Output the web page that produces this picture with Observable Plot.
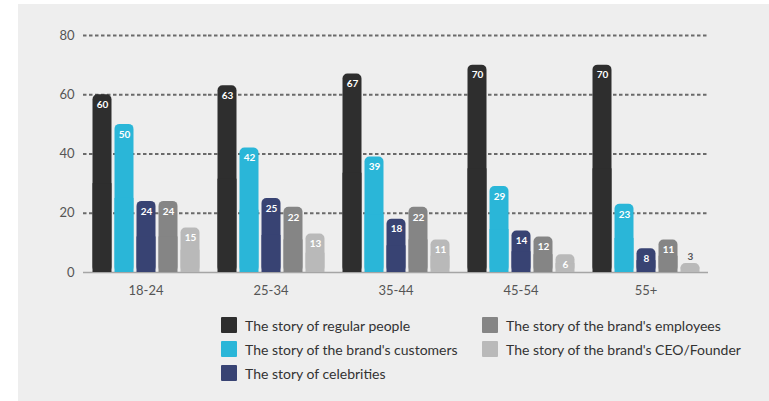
<!DOCTYPE html>
<html>
<head>
<meta charset="utf-8">
<script src="https://cdn.jsdelivr.net/npm/d3@7"></script>
<script src="https://cdn.jsdelivr.net/npm/@observablehq/plot@0.6"></script>
<style>
  html, body { margin: 0; padding: 0; background: #ffffff; width: 769px; height: 401px; overflow: hidden; font-family: Lato, "Open Sans", sans-serif; }
  #panel { position: absolute; left: 18px; top: 4px; width: 751px; height: 397px; background: #eeeeee; }
  #chart { position: absolute; left: 0; top: 0; }
  #legend { position: absolute; left: 221px; top: 313px; display: grid; grid-auto-flow: column; grid-template-rows: repeat(3, 24px); grid-template-columns: 261px 280px; }
  .item { display: flex; align-items: center; font-size: 14px; color: #333; white-space: nowrap; }
  .sw { width: 16px; height: 16px; margin-right: 8px; border-radius: 1px; flex: none; }
</style>
</head>
<body>
<div id="panel"></div>
<div id="chart"></div>
<div id="legend"></div>
<script>
const groups = ["18-24", "25-34", "35-44", "45-54", "55+"];
const series = [
  "The story of regular people",
  "The story of the brand's customers",
  "The story of celebrities",
  "The story of the brand's employees",
  "The story of the brand's CEO/Founder"
];
const colors = ["#2e2e2e", "#2ab6d8", "#384373", "#858585", "#b9b9b9"];
const regularPeople = [60, 63, 67, 70, 70];
const customers = [50, 42, 39, 29, 23];
const celebrities = [24, 25, 18, 14, 8];
const employees = [24, 22, 22, 12, 11];
const ceoFounder = [15, 13, 11, 6, 3];
const yTicks = [0, 20, 40, 60, 80];

const seriesValues = [regularPeople, customers, celebrities, employees, ceoFounder];
const data = [];
groups.forEach((g, gi) => {
  series.forEach((s, si) => {
    data.push({group: g, series: s, value: seriesValues[si][gi]});
  });
});

const chart = Plot.plot({
  width: 769,
  height: 310,
  marginLeft: 82.5,
  marginRight: 61.5,
  marginTop: 35,
  marginBottom: 38,
  style: {background: "transparent", fontFamily: "Lato, 'Open Sans', sans-serif", fontSize: "13px", color: "#555"},
  fx: {domain: groups, padding: 0, axis: "bottom", label: null, tickSize: 0, tickPadding: 13, fontSize: 14},
  x: {domain: series, axis: null, paddingInner: 0.156, paddingOuter: 0.356},
  y: {domain: [0, 80], ticks: yTicks, label: null, tickSize: 0, tickPadding: 9},
  color: {domain: series, range: colors},
  marks: [
    Plot.ruleY(yTicks.filter(d => d > 0), {stroke: "#6a6a6a", strokeWidth: 2, strokeDasharray: "3.5,2.5"}),
    Plot.ruleY([0], {stroke: "#a5a5a5", strokeWidth: 1.5}),
    Plot.barY(data, {fx: "group", x: "series", y: "value", fill: "series", rx: 5}),
    Plot.barY(data, {fx: "group", x: "series", y1: 0, y2: d => d.value / 2, fill: "series"}),
    Plot.text(data.filter(d => d.value >= 5), {fx: "group", x: "series", y: "value", text: d => String(d.value), dy: 10, fill: "white", fontSize: 10, fontWeight: "bold"}),
    Plot.text(data.filter(d => d.value < 5), {fx: "group", x: "series", y: "value", text: d => String(d.value), dy: -7, fill: "#555", fontSize: 10, fontWeight: "bold"})
  ]
});
document.getElementById("chart").appendChild(chart);

const legend = document.getElementById("legend");
series.forEach((s, i) => {
  const item = document.createElement("div");
  item.className = "item";
  const sw = document.createElement("span");
  sw.className = "sw";
  sw.style.background = colors[i];
  const t = document.createElement("span");
  t.textContent = s;
  item.appendChild(sw);
  item.appendChild(t);
  legend.appendChild(item);
});
</script>
</body>
</html>
